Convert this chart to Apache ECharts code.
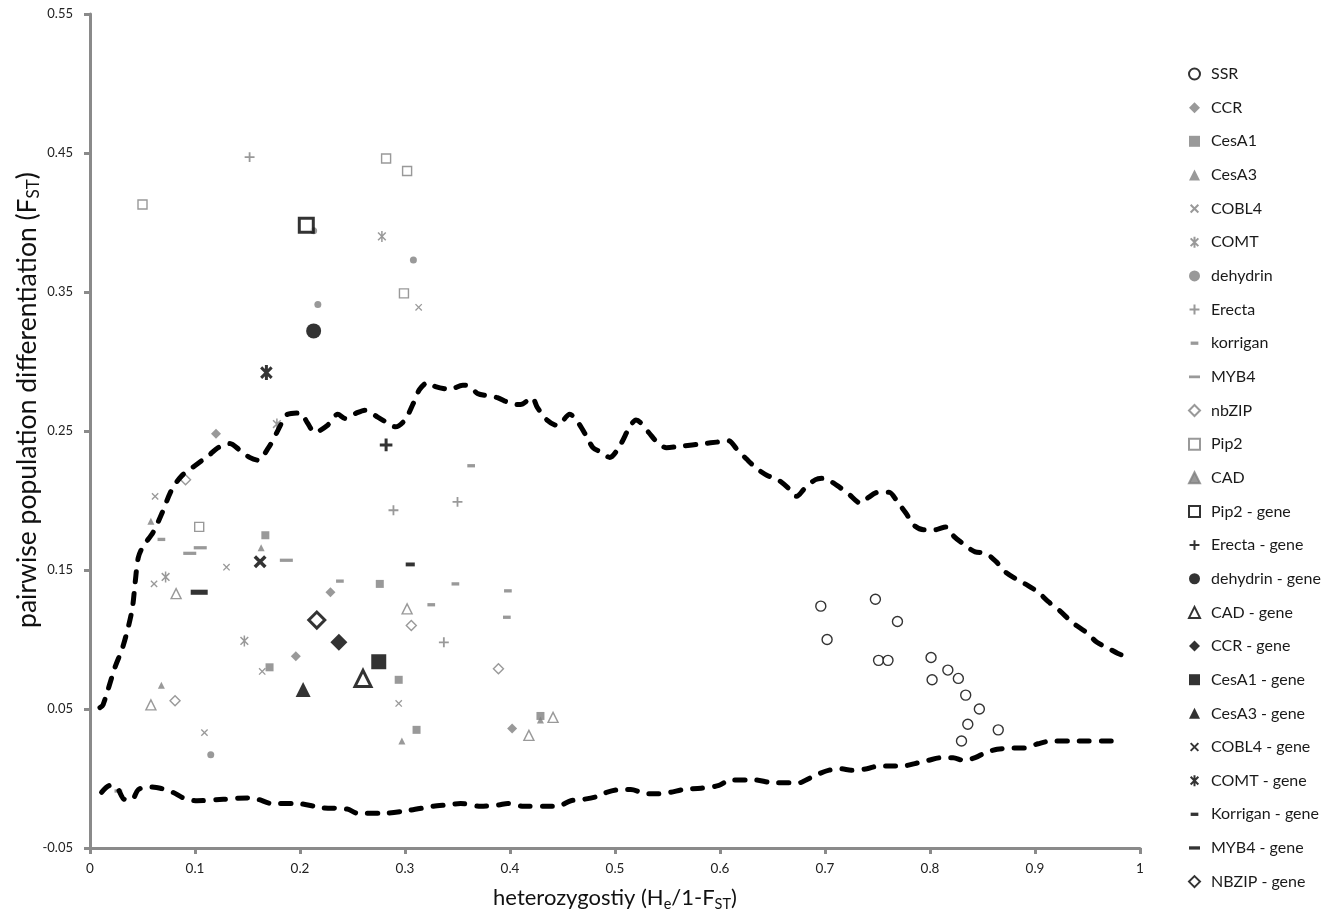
<!DOCTYPE html>
<html><head><meta charset="utf-8">
<script src="https://cdn.jsdelivr.net/npm/echarts@6/dist/echarts.min.js"></script>
<style>html,body{margin:0;padding:0;background:#fff}#c{width:1339px;height:912px}</style>
</head><body><div id="c"></div>
<script>
// ---- tick labels ----
const xTicks = [0,0.1,0.2,0.3,0.4,0.5,0.6,0.7,0.8,0.9,1];
const yTicks = [-0.05,0.05,0.15,0.25,0.35,0.45,0.55];

// ---- population markers (x = He/1-Fst, y = Fst) ----
const SSR = [[0.696,0.124],[0.748,0.129],[0.769,0.113],[0.702,0.100],[0.751,0.085],[0.760,0.085],[0.801,0.087],[0.817,0.078],[0.802,0.071],[0.827,0.072],[0.834,0.060],[0.847,0.050],[0.836,0.039],[0.865,0.035],[0.830,0.027]];
const CCR = [[0.120,0.248],[0.229,0.134],[0.196,0.088],[0.402,0.036]];
const CesA1 = [[0.167,0.175],[0.276,0.140],[0.171,0.080],[0.294,0.071],[0.311,0.035],[0.429,0.045]];
const CesA3 = [[0.058,0.185],[0.163,0.166],[0.068,0.067],[0.297,0.027],[0.429,0.042]];
const COBL4 = [[0.062,0.203],[0.130,0.152],[0.061,0.140],[0.164,0.077],[0.294,0.054],[0.109,0.033],[0.313,0.339]];
const COMT = [[0.278,0.390],[0.178,0.255],[0.072,0.145],[0.147,0.099]];
const dehydrin = [[0.213,0.394],[0.308,0.373],[0.217,0.341],[0.115,0.017]];
const Erecta = [[0.152,0.447],[0.289,0.193],[0.350,0.199],[0.337,0.098]];
const korrigan = [[0.068,0.172],[0.238,0.142],[0.325,0.125],[0.363,0.225],[0.348,0.140],[0.398,0.135],[0.397,0.116],[0.027,-0.009]];
const MYB4 = [[0.095,0.162],[0.105,0.166],[0.187,0.157]];
const nbZIP = [[0.091,0.215],[0.306,0.110],[0.081,0.056],[0.389,0.079]];
const Pip2 = [[0.282,0.446],[0.302,0.437],[0.050,0.413],[0.299,0.349],[0.104,0.181]];
const CAD = [[0.082,0.133],[0.302,0.122],[0.058,0.053],[0.418,0.031],[0.441,0.044]];

// ---- gene markers ----
const Pip2Gene = [[0.206,0.398]];
const ErectaGene = [[0.282,0.240]];
const dehydrinGene = [[0.213,0.322]];
const CADGene = [[0.260,0.072]];
const CCRGene = [[0.237,0.098]];
const CesA1Gene = [[0.275,0.084]];
const CesA3Gene = [[0.203,0.064]];
const COBL4Gene = [[0.162,0.156]];
const COMTGene = [[0.168,0.292]];
const KorriganGene = [[0.305,0.154]];
const MYB4Gene = [[0.104,0.134]];
const NBZIPGene = [[0.216,0.114]];

// ---- dashed envelope lines ----
const upperLine = [[0.0095,0.051],[0.0124,0.053],[0.0238,0.080],[0.0314,0.095],[0.040,0.121],[0.043,0.141],[0.046,0.159],[0.0505,0.167],[0.060,0.177],[0.0686,0.191],[0.078,0.208],[0.0876,0.218],[0.098,0.224],[0.114,0.233],[0.122,0.238],[0.133,0.241],[0.143,0.236],[0.152,0.231],[0.160,0.229],[0.170,0.238],[0.178,0.249],[0.184,0.258],[0.188,0.262],[0.200,0.263],[0.207,0.256],[0.214,0.249],[0.226,0.254],[0.236,0.262],[0.243,0.259],[0.254,0.263],[0.262,0.265],[0.274,0.260],[0.283,0.256],[0.291,0.253],[0.300,0.258],[0.308,0.270],[0.314,0.280],[0.322,0.285],[0.329,0.282],[0.343,0.280],[0.355,0.283],[0.362,0.282],[0.369,0.277],[0.381,0.275],[0.388,0.274],[0.400,0.270],[0.410,0.269],[0.421,0.274],[0.426,0.267],[0.435,0.258],[0.445,0.254],[0.457,0.262],[0.464,0.257],[0.473,0.246],[0.479,0.238],[0.486,0.235],[0.495,0.231],[0.505,0.240],[0.514,0.253],[0.520,0.258],[0.532,0.249],[0.540,0.242],[0.549,0.238],[0.562,0.239],[0.585,0.241],[0.597,0.242],[0.608,0.243],[0.617,0.236],[0.625,0.230],[0.635,0.223],[0.645,0.218],[0.655,0.215],[0.665,0.209],[0.673,0.203],[0.681,0.209],[0.691,0.215],[0.699,0.216],[0.711,0.211],[0.722,0.205],[0.734,0.198],[0.741,0.202],[0.751,0.206],[0.761,0.206],[0.769,0.199],[0.777,0.191],[0.785,0.182],[0.794,0.179],[0.805,0.179],[0.815,0.181],[0.823,0.174],[0.833,0.168],[0.843,0.163],[0.853,0.162],[0.863,0.156],[0.871,0.149],[0.883,0.143],[0.893,0.139],[0.903,0.134],[0.913,0.127],[0.923,0.121],[0.936,0.112],[0.949,0.105],[0.959,0.098],[0.969,0.094],[0.979,0.090],[0.989,0.087]];
const lowerLine = [[0.011,-0.010],[0.019,-0.005],[0.026,-0.007],[0.033,-0.015],[0.040,-0.015],[0.046,-0.008],[0.055,-0.006],[0.067,-0.007],[0.079,-0.010],[0.089,-0.014],[0.102,-0.016],[0.127,-0.015],[0.150,-0.014],[0.160,-0.015],[0.173,-0.018],[0.197,-0.018],[0.221,-0.021],[0.245,-0.022],[0.255,-0.025],[0.279,-0.025],[0.303,-0.023],[0.327,-0.020],[0.340,-0.019],[0.353,-0.018],[0.372,-0.020],[0.389,-0.019],[0.398,-0.018],[0.413,-0.020],[0.436,-0.020],[0.445,-0.020],[0.458,-0.016],[0.470,-0.015],[0.483,-0.013],[0.492,-0.010],[0.505,-0.008],[0.515,-0.008],[0.530,-0.011],[0.539,-0.011],[0.552,-0.010],[0.565,-0.008],[0.582,-0.007],[0.599,-0.005],[0.610,-0.001],[0.625,-0.001],[0.633,-0.001],[0.650,-0.003],[0.667,-0.003],[0.676,-0.003],[0.682,-0.001],[0.693,0.003],[0.704,0.006],[0.715,0.007],[0.725,0.006],[0.740,0.007],[0.751,0.009],[0.762,0.009],[0.774,0.009],[0.787,0.011],[0.798,0.013],[0.811,0.015],[0.822,0.015],[0.832,0.013],[0.843,0.015],[0.854,0.019],[0.864,0.021],[0.879,0.022],[0.890,0.022],[0.903,0.025],[0.916,0.027],[0.933,0.027],[0.950,0.027],[0.967,0.027],[0.984,0.027]];

// ---- styling helpers ----
const GRAY = '#808080', BLACK = '#000';
const SYM = {
  x: 'path://M0,0M20,20M3,3L17,17M17,3L3,17',
  ast: 'path://M0,0M20,20M3,3L17,17M17,3L3,17M10,0V20',
  plus: 'path://M0,0M20,20M10,1V19M1,10H19',
  dashS: 'path://M0,0M20,20M3,7H17V13H3Z',
  dashL: 'path://M0,0M20,20M0,7.5H20V12.5H0Z',
  dashG: 'path://M0,0M20,20M0,7H20V13H0Z'
};
function filled(name, data, symbol, size, color) {
  return {name, type:'scatter', data, symbol, symbolSize:size, z:3,
    itemStyle:{color, borderWidth:0}};
}
function open(name, data, symbol, size, color, bw) {
  return {name, type:'scatter', data, symbol, symbolSize:size, z:3,
    itemStyle:{color:'#fff', borderColor:color, borderWidth:bw}};
}
function stroke(name, data, symbol, size, color, bw) {
  return {name, type:'scatter', data, symbol, symbolSize:size, z:3,
    itemStyle:{color:'rgba(0,0,0,0)', borderColor:color, borderWidth:bw}};
}

const scatterSeries = [
  open('SSR', SSR, 'circle', 10, BLACK, 1.4),
  filled('CCR', CCR, 'diamond', 10, GRAY),
  filled('CesA1', CesA1, 'rect', 8, GRAY),
  filled('CesA3', CesA3, 'triangle', 7, GRAY),
  stroke('COBL4', COBL4, SYM.x, 9, GRAY, 1.3),
  stroke('COMT', COMT, SYM.ast, 11, GRAY, 1.5),
  filled('dehydrin', dehydrin, 'circle', 7, GRAY),
  stroke('Erecta', Erecta, SYM.plus, 11, GRAY, 1.8),
  filled('korrigan', korrigan, SYM.dashS, 11, GRAY),
  filled('MYB4', MYB4, SYM.dashL, 13, GRAY),
  open('nbZIP', nbZIP, 'diamond', 10, GRAY, 1.4),
  open('Pip2', Pip2, 'rect', 9, GRAY, 1.4),
  open('CAD', CAD, 'triangle', 10, GRAY, 1.4),
  open('Pip2 - gene', Pip2Gene, 'rect', 14, BLACK, 3),
  stroke('Erecta - gene', ErectaGene, SYM.plus, 14, BLACK, 3),
  filled('dehydrin - gene', dehydrinGene, 'circle', 15, BLACK),
  open('CAD - gene', CADGene, 'triangle', 16, BLACK, 3),
  filled('CCR - gene', CCRGene, 'diamond', 17, BLACK),
  filled('CesA1 - gene', CesA1Gene, 'rect', 15, BLACK),
  filled('CesA3 - gene', CesA3Gene, 'triangle', 15, BLACK),
  stroke('COBL4 - gene', COBL4Gene, SYM.x, 15, BLACK, 3.5),
  stroke('COMT - gene', COMTGene, SYM.ast, 15, BLACK, 3),
  filled('Korrigan - gene', KorriganGene, SYM.dashS, 13, BLACK),
  filled('MYB4 - gene', MYB4Gene, SYM.dashG, 17, BLACK),
  open('NBZIP - gene', NBZIPGene, 'diamond', 16, BLACK, 3)
];
const legendNames = scatterSeries.map(s => s.name);
const legendData = legendNames.map(n => n === 'CAD' ? {name:n, itemStyle:{color:GRAY}} : n);

const dashLine = {color:BLACK, width:5, type:[10,12], cap:'round', join:'round'};
const lineSeries = [
  {name:'upper', type:'line', data:upperLine, symbol:'none', smooth:0.3, z:5, silent:true, lineStyle:dashLine},
  {name:'lower', type:'line', data:lowerLine, symbol:'none', smooth:0.3, z:5, silent:true, lineStyle:dashLine}
];

const axisColor = '#8a8a8a';
const chart = echarts.init(document.getElementById('c'), null, {renderer:'canvas'});
chart.setOption({
  animation:false,
  backgroundColor:'#fff',
  grid:{left:90, right:199, top:14, bottom:64, containLabel:false},
  xAxis:{type:'value', min:0, max:1, interval:0.1,
    axisLine:{show:true, onZero:false, lineStyle:{color:axisColor, width:3}},
    axisTick:{show:true, length:6, lineStyle:{color:axisColor, width:3}, customValues:xTicks},
    axisLabel:{customValues:xTicks, margin:14, color:'#222', fontFamily:'Lato', fontSize:13.5,
      formatter:v => String(Math.round(v*10)/10)},
    splitLine:{show:false}},
  yAxis:{type:'value', min:-0.05, max:0.55,
    axisLine:{show:true, onZero:false, lineStyle:{color:axisColor, width:3}},
    axisTick:{show:true, length:6, lineStyle:{color:axisColor, width:3}, customValues:yTicks},
    axisLabel:{customValues:yTicks, margin:17, color:'#222', fontFamily:'Lato', fontSize:13,
      formatter:v => (Math.round(v*100)/100).toFixed(2)},
    splitLine:{show:false}},
  legend:{orient:'vertical', left:1183, top:61, height:880, itemWidth:11, itemHeight:11, itemGap:17.65,
    selectedMode:false, data:legendData,
    textStyle:{fontFamily:'Lato', fontSize:16, color:'#1a1a1a', padding:[0,0,0,6]}},
  graphic:[
    {type:'text', x:615, y:898, silent:true,
      style:{text:'heterozygostiy (H{s|e}/1-F{s|ST})', fontFamily:'Lato', fontSize:22, fill:'#111',
        align:'center', verticalAlign:'middle',
        rich:{s:{fontFamily:'Lato', fontSize:14.5, fill:'#111', padding:[12,0,0,0]}}}},
    {type:'text', x:27, y:400, rotation:Math.PI/2, silent:true,
      style:{text:'pairwise population differentiation (F{s|ST})', fontFamily:'Lato', fontSize:26.5, fill:'#111',
        align:'center', verticalAlign:'middle',
        rich:{s:{fontFamily:'Lato', fontSize:17, fill:'#111', padding:[13,0,0,0]}}}}
  ],
  series: scatterSeries.concat(lineSeries)
});
</script></body></html>
